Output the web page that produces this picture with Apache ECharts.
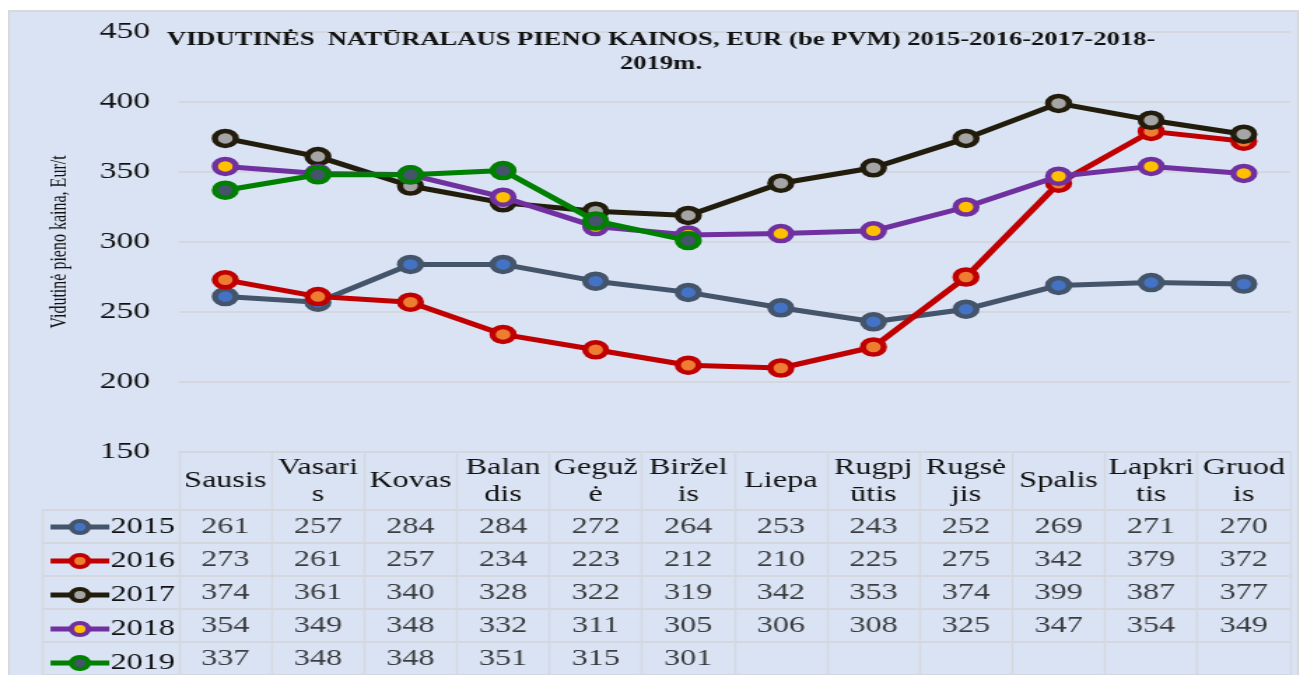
<!DOCTYPE html>
<html>
<head>
<meta charset="utf-8">
<script src="https://cdn.jsdelivr.net/npm/echarts@6/dist/echarts.min.js"></script>
<style>
  html, body { margin: 0; padding: 0; background: #fff; overflow: hidden; }
  #frame { position: absolute; left: 8px; top: 10px; width: 1287px; height: 670px;
           background: #DAE3F3; border: 2px solid #D9D9D9; }
  /* the source picture is stretched sideways, so draw narrow and widen */
  #chart { position: absolute; left: 0; top: 0; width: 929px; height: 675px;
           transform: scaleX(1.3994); transform-origin: 0 0; }
</style>
</head>
<body>
<div id="frame"></div>
<div id="chart"></div>
<script>
const months = ['Sausis', 'Vasaris', 'Kovas', 'Balandis', 'Gegužė', 'Birželis',
    'Liepa', 'Rugpjūtis', 'Rugsėjis', 'Spalis', 'Lapkritis', 'Gruodis']
// wrapped the way the table header shows them
const monthLabels = ['Sausis', 'Vasari\ns', 'Kovas', 'Balan\ndis', 'Geguž\nė', 'Biržel\nis',
    'Liepa', 'Rugpj\nūtis', 'Rugsė\njis', 'Spalis', 'Lapkri\ntis', 'Gruod\nis']
const years = ['2015', '2016', '2017', '2018', '2019']

const price2015 = [261, 257, 284, 284, 272, 264, 253, 243, 252, 269, 271, 270]
const price2016 = [273, 261, 257, 234, 223, 212, 210, 225, 275, 342, 379, 372]
const price2017 = [374, 361, 340, 328, 322, 319, 342, 353, 374, 399, 387, 377]
const price2018 = [354, 349, 348, 332, 311, 305, 306, 308, 325, 347, 354, 349]
const price2019 = [337, 348, 348, 351, 315, 301, null, null, null, null, null, null]

const yTicks = { min: 150, max: 450, interval: 50 }

const prices = [price2015, price2016, price2017, price2018, price2019]
const lineColor = ['#44546A', '#C00000', '#221C0C', '#7030A0', '#008000']
const dotColor = ['#4472C4', '#ED7D31', '#A5A5A5', '#FFC000', '#44546A']

const sx = 1.3994   // horizontal stretch applied by css
const font = 'Liberation Serif'
const gridLine = '#D4D8DE'
const textColor = '#111'

const myChart = echarts.init(document.getElementById('chart'))

const lineSeries = years.map((y, i) => ({
    name: y,
    type: 'line',
    xAxisIndex: 0,
    yAxisIndex: 0,
    data: prices[i],
    symbol: 'circle',
    symbolSize: 15,
    lineStyle: { width: 5, color: lineColor[i] },
    itemStyle: { color: dotColor[i], borderColor: lineColor[i], borderWidth: 4.5 },
    z: 3 + i
}))

// table cells: [month, year, value]
const cells = []
prices.forEach((row, r) => {
    row.forEach((v, c) => {
        if (v != null) cells.push([c, r, v])
    })
})

// one legend per table row so each sits in its own cell
const legends = years.map((y, i) => ({
    data: [y],
    left: 47 / sx,
    top: 515 + i * 34,
    padding: 0,
    itemWidth: 42,
    itemHeight: 15,
    lineStyle: { width: 5 },
    itemStyle: { borderWidth: 4 },
    textStyle: {
        fontFamily: font,
        fontSize: 23,
        lineHeight: 24,
        color: textColor,
        padding: [0, 0, 0, -4]
    }
}))

const option = {
    title: {
        text: 'VIDUTINĖS  NATŪRALAUS PIENO KAINOS, EUR (be PVM) 2015-2016-2017-2018-\n2019m.',
        left: 654 / sx,
        textAlign: 'center',
        top: 23,
        textStyle: {
            fontFamily: font,
            fontWeight: 'bold',
            fontSize: 19,
            lineHeight: 24,
            color: textColor
        }
    },
    legend: legends,
    grid: [
        { left: 179 / sx, right: 10 / sx, top: 32, height: 420 },
        { left: 179 / sx, right: 10 / sx, top: 510, height: 170 }
    ],
    xAxis: [
        {
            gridIndex: 0,
            type: 'category',
            data: months,
            axisLine: { show: true, lineStyle: { color: gridLine, width: 2 } },
            axisTick: { show: false },
            axisLabel: { show: false }
        },
        {
            gridIndex: 1,
            type: 'category',
            data: months,
            position: 'top',
            axisLine: { show: true, lineStyle: { color: gridLine, width: 2 } },
            axisTick: { show: true, length: 58, lineStyle: { color: gridLine, width: 1.4 } },
            splitLine: { show: true, lineStyle: { color: gridLine, width: 1.4 } },
            axisLabel: {
                margin: 29,
                verticalAlign: 'middle',
                fontFamily: font,
                fontSize: 23,
                lineHeight: 27,
                color: textColor,
                interval: 0,
                formatter: (v, i) => monthLabels[i]
            }
        }
    ],
    yAxis: [
        {
            gridIndex: 0,
            type: 'value',
            min: yTicks.min,
            max: yTicks.max,
            interval: yTicks.interval,
            name: 'Vidutinė pieno kaina, Eur/t',
            nameLocation: 'middle',
            nameGap: 77,
            nameTextStyle: { fontFamily: font, fontSize: 16, color: textColor },
            axisLine: { show: false },
            axisTick: { show: false },
            splitLine: { lineStyle: { color: gridLine, width: 2 } },
            axisLabel: {
                margin: 29 / sx,
                fontFamily: font,
                fontSize: 24,
                color: textColor
            }
        },
        {
            gridIndex: 1,
            type: 'category',
            data: years,
            inverse: true,
            axisLine: { show: true, lineStyle: { color: gridLine, width: 1.4 } },
            axisTick: { show: true, length: 137 / sx, lineStyle: { color: gridLine, width: 2 } },
            splitLine: { show: true, lineStyle: { color: gridLine, width: 2 } },
            axisLabel: { show: false }
        },
        {
            gridIndex: 1,
            type: 'category',
            data: years,
            inverse: true,
            position: 'left',
            offset: 137 / sx,
            axisLine: { show: true, lineStyle: { color: gridLine, width: 1.4 } },
            axisTick: { show: false },
            splitLine: { show: false },
            axisLabel: { show: false }
        }
    ],
    series: [
        ...lineSeries,
        {
            name: 'lentelė',
            type: 'scatter',
            xAxisIndex: 1,
            yAxisIndex: 1,
            data: cells,
            symbolSize: 0,
            silent: true,
            label: {
                show: true,
                position: 'inside',
                formatter: p => p.value[2],
                fontFamily: font,
                fontSize: 23,
                color: textColor
            }
        }
    ]
}

myChart.setOption(option)
</script>
</body>
</html>
